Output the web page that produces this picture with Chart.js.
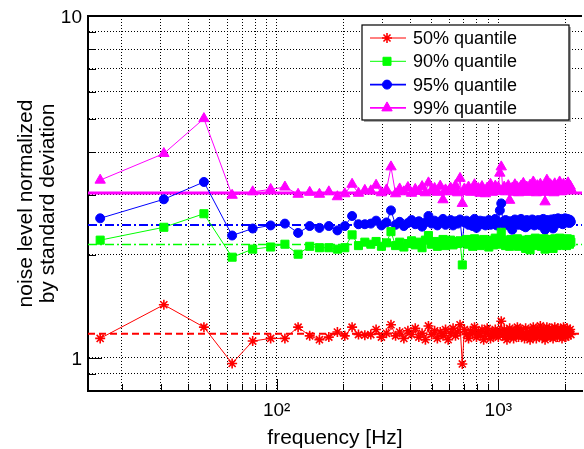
<!DOCTYPE html>
<html>
<head>
<meta charset="utf-8">
<script src="https://cdn.jsdelivr.net/npm/chart.js@4.4.0/dist/chart.umd.min.js"></script>
<style>
  html, body { margin: 0; padding: 0; background: #fff; overflow: hidden; }
</style>
</head>
<body>
<!-- the original figure is cut off on the right, so the canvas runs a few px past the window -->
<canvas id="chart" width="589" height="449"></canvas>
<script>
// frequency bins [Hz]
const freq = [
  16, 31, 47, 63, 78, 94, 109, 125, 141, 156, 172, 188, 203, 219, 234, 250,
  266, 281, 297, 313, 328, 344, 359, 375, 391, 406, 422, 438, 453, 469, 484, 500,
  516, 531, 547, 563, 578, 594, 609, 625, 641, 656, 672, 688, 703, 719, 734, 750,
  766, 781, 797, 813, 828, 844, 859, 875, 891, 906, 922, 938, 953, 969, 984, 1000,
  1016, 1031, 1047, 1063, 1078, 1094, 1109, 1125, 1141, 1156, 1172, 1188, 1203, 1219, 1234, 1250,
  1266, 1281, 1297, 1313, 1328, 1344, 1359, 1375, 1391, 1406, 1422, 1438, 1453, 1469, 1484, 1500,
  1516, 1531, 1547, 1563, 1578, 1594, 1609, 1625, 1641, 1656, 1672, 1688, 1703, 1719, 1734, 1750,
  1766, 1781, 1797, 1813, 1828, 1844, 1859, 1875, 1891, 1906, 1922, 1938, 1953, 1969, 1984, 2000,
  2016, 2031, 2047, 2063, 2078, 2094, 2109, 2125
];

const q50 = [
  1.14, 1.43, 1.23, 0.963, 1.12, 1.14, 1.14, 1.23, 1.16, 1.13, 1.15, 1.19, 1.16, 1.23, 1.17, 1.165,
  1.17, 1.21, 1.15, 1.18, 1.25, 1.16, 1.19, 1.14, 1.20, 1.17,
  1.22, 1.15, 1.18, 1.13, 1.24, 1.17, 1.20, 1.14, 1.19, 1.16,
  1.21, 1.13, 1.18, 1.22, 1.16, 1.19, 1.25, 0.96, 1.21, 1.17,
  1.14, 1.20, 1.18, 1.23, 1.15, 1.19, 1.16, 1.21, 1.13, 1.18,
  1.22, 1.17, 1.14, 1.19, 1.16, 1.21, 1.18, 1.15, 1.20, 1.28,
  1.17, 1.21, 1.15, 1.13, 1.19, 1.22, 1.16, 1.18, 1.14, 1.20,
  1.17, 1.23, 1.15, 1.19, 1.21, 1.16, 1.18, 1.14, 1.22, 1.17,
  1.19, 1.15, 1.13, 1.20, 1.17, 1.23, 1.16, 1.19, 1.14, 1.21,
  1.18, 1.16, 1.24, 1.19, 1.15, 1.21, 1.17, 1.13, 1.20, 1.23,
  1.16, 1.19, 1.22, 1.15, 1.18, 1.21, 1.14, 1.19, 1.23, 1.17,
  1.20, 1.15, 1.22, 1.18, 1.16, 1.21, 1.19, 1.14, 1.20, 1.23,
  1.17, 1.21, 1.15, 1.19, 1.22, 1.16, 1.20, 1.18, 1.21, 1.17
];

const q90 = [
  2.21, 2.41, 2.64, 1.97, 2.08, 2.11, 2.15, 2.01, 2.12, 2.10, 2.10, 2.08, 2.10, 2.29, 2.13, 2.18,
  2.15, 2.19, 2.12, 2.17, 2.34, 2.13, 2.18, 2.11, 2.16, 2.20,
  2.14, 2.18, 2.10, 2.21, 2.28, 2.15, 2.19, 2.12, 2.17, 2.22,
  2.13, 2.18, 2.21, 2.14, 2.19, 2.16, 2.20, 1.87, 2.17, 2.22,
  2.15, 2.19, 2.12, 2.23, 2.16, 2.20, 2.13, 2.18, 2.22, 2.15,
  2.19, 2.11, 2.17, 2.21, 2.14, 2.24, 2.18, 2.15, 2.20, 2.33,
  2.17, 2.21, 2.13, 2.19, 2.16, 2.12, 2.22, 2.18, 2.14, 2.20,
  2.17, 2.23, 2.12, 2.19, 2.15, 2.21, 2.18, 2.13, 2.09, 2.20,
  2.16, 2.22, 2.07, 2.18, 2.14, 2.21, 2.17, 2.24, 2.13, 2.19,
  2.15, 2.22, 2.18, 2.12, 2.20, 2.16, 2.23, 2.08, 2.17, 2.21,
  2.14, 2.19, 2.22, 2.16, 2.12, 2.20, 2.09, 2.18, 2.23, 2.15,
  2.19, 2.13, 2.21, 2.17, 2.24, 2.15, 2.20, 2.18, 2.14, 2.22,
  2.16, 2.21, 2.18, 2.13, 2.23, 2.17, 2.20, 2.15, 2.22, 2.18
];

const q95 = [
  2.56, 2.91, 3.27, 2.28, 2.39, 2.44, 2.47, 2.32, 2.43, 2.40, 2.43, 2.36, 2.43, 2.60, 2.46, 2.46,
  2.47, 2.52, 2.44, 2.49, 2.70, 2.45, 2.50, 2.43, 2.48, 2.53,
  2.46, 2.51, 2.42, 2.49, 2.60, 2.47, 2.52, 2.44, 2.50, 2.55,
  2.45, 2.49, 2.53, 2.44, 2.51, 2.47, 2.54, 2.18, 2.49, 2.52,
  2.45, 2.50, 2.43, 2.55, 2.40, 2.48, 2.52, 2.46, 2.51, 2.44,
  2.49, 2.53, 2.45, 2.50, 2.47, 2.55, 2.44, 2.49, 2.70, 2.83,
  2.50, 2.46, 2.53, 2.48, 2.44, 2.51, 2.47, 2.37, 2.49, 2.54,
  2.46, 2.52, 2.45, 2.49, 2.55, 2.47, 2.43, 2.50, 2.41, 2.53,
  2.48, 2.45, 2.51, 2.47, 2.54, 2.49, 2.44, 2.52, 2.46, 2.50,
  2.53, 2.47, 2.44, 2.51, 2.48, 2.55, 2.45, 2.37, 2.50, 2.53,
  2.47, 2.52, 2.49, 2.45, 2.54, 2.48, 2.39, 2.51, 2.55, 2.49,
  2.53, 2.47, 2.56, 2.50, 2.52, 2.48, 2.55, 2.51, 2.46, 2.54,
  2.50, 2.56, 2.52, 2.49, 2.55, 2.51, 2.54, 2.48, 2.53, 2.50
];

const q99 = [
  3.31, 3.96, 5.01, 2.99, 3.06, 3.11, 3.16, 3.01, 3.05, 3.01, 3.06, 2.96, 3.02, 3.22, 3.03, 3.09,
  3.08, 3.20, 3.04, 3.10, 3.62, 3.02, 3.12, 3.06, 3.15, 3.03,
  3.11, 3.07, 3.17, 3.04, 3.25, 3.09, 3.13, 3.05, 3.18, 2.90,
  3.10, 3.06, 3.14, 3.08, 3.19, 3.04, 3.35, 2.83, 3.12, 3.07,
  3.16, 3.05, 3.11, 3.21, 3.06, 3.13, 3.03, 3.17, 3.09, 3.02,
  3.14, 3.08, 3.22, 3.05, 3.12, 3.18, 3.07, 3.15, 3.47, 3.62,
  3.10, 3.16, 3.06, 3.13, 3.19, 2.89, 3.08, 3.14, 3.05, 3.21,
  3.09, 3.15, 3.04, 3.12, 3.18, 3.07, 3.24, 3.10, 3.06, 3.16,
  3.11, 3.05, 3.20, 3.08, 3.13, 3.27, 3.09, 3.15, 3.04, 3.19,
  3.12, 3.07, 3.22, 3.10, 3.16, 3.05, 3.14, 2.86, 3.18, 3.31,
  3.09, 3.15, 3.06, 3.21, 3.12, 3.08, 3.17, 3.04, 3.23, 3.11,
  3.14, 3.07, 3.19, 3.10, 3.27, 3.13, 3.06, 3.18, 3.11, 3.22,
  3.08, 3.16, 3.12, 3.20, 3.09, 3.25, 3.14, 3.10, 3.18, 3.13
];

// expected quantile levels (horizontal reference lines)
const refLevels = [1.177, 2.146, 2.448, 3.035];

const seriesNames = ['50% quantile', '90% quantile', '95% quantile', '99% quantile'];
const xTicks = [20, 30, 40, 50, 60, 70, 80, 90, 100, 200, 300, 400, 500, 600, 700, 800, 900, 1000, 2000];
const yTicks = [0.8, 0.9, 1, 2, 3, 4, 5, 6, 7, 8, 9, 10];
const xMajor = { 100: '10\u00B2', 1000: '10\u00B3' };
const yMajor = { 1: '1', 10: '10' };
const xRange = [14.1, 2385];
const yRange = [0.8, 10];

const styles = [
  { color: '#ff0000', point: 'star', radius: 5, pbw: 1.6, dash: [7, 4], refWidth: 2 },
  { color: '#00ff00', point: 'rect', radius: 5.7, pbw: 1, dash: [9, 3, 2, 3], refWidth: 1.6 },
  { color: '#0000ff', point: 'circle', radius: 4.5, pbw: 1, dash: [9, 3, 2, 3], refWidth: 2 },
  { color: '#ff00ff', point: 'triangle', radius: 6, pbw: 1, dash: [], refWidth: 3 }
];
const series = [q50, q90, q95, q99];

const datasets = [];
series.forEach((vals, i) => {
  const s = styles[i];
  datasets.push({
    label: seriesNames[i],
    data: freq.map((f, j) => ({ x: f, y: vals[j] })),
    borderColor: s.color,
    backgroundColor: s.color,
    borderWidth: 1,
    pointStyle: s.point,
    pointRadius: s.radius,
    pointBorderWidth: s.pbw,
    pointBackgroundColor: s.color,
    pointBorderColor: s.color,
    tension: 0,
    order: 1
  });
});
refLevels.forEach((lvl, i) => {
  const s = styles[i];
  datasets.push({
    label: 'ref' + i,
    data: [{ x: xRange[0], y: lvl }, { x: xRange[1], y: lvl }],
    borderColor: s.color,
    borderWidth: s.refWidth,
    borderDash: s.dash,
    pointRadius: 0,
    order: 5
  });
});

// frame: top border + inward tick marks
const framePlugin = {
  id: 'frame',
  afterDraw(chart) {
    const { ctx, chartArea: a, scales } = chart;
    ctx.save();
    ctx.strokeStyle = '#000';
    ctx.lineWidth = 2;
    ctx.beginPath();
    ctx.moveTo(a.left - 1, a.top);
    ctx.lineTo(a.right, a.top);
    ctx.stroke();
    ctx.lineWidth = 1;
    ctx.beginPath();
    yTicks.forEach(v => {
      const y = Math.round(scales.y.getPixelForValue(v)) + 0.5;
      const len = yMajor[v] ? 14 : 8;
      ctx.moveTo(a.left, y);
      ctx.lineTo(a.left + len, y);
    });
    xTicks.forEach(v => {
      const x = Math.round(scales.x.getPixelForValue(v)) + 0.5;
      const len = xMajor[v] ? 12 : 7;
      ctx.moveTo(x, a.bottom);
      ctx.lineTo(x, a.bottom - len);
    });
    ctx.stroke();
    ctx.restore();
  }
};

// boxed legend with line + marker samples
const legendPlugin = {
  id: 'boxLegend',
  afterDraw(chart) {
    const { ctx, chartArea: a } = chart;
    const x0 = 362, y0 = a.top + 9, w = 207, h = 95;
    ctx.save();
    ctx.fillStyle = '#aaa';
    ctx.fillRect(x0 + 2, y0 + 2, w, h);
    ctx.fillStyle = '#fff';
    ctx.fillRect(x0, y0, w, h);
    ctx.strokeStyle = '#000';
    ctx.lineWidth = 1.2;
    ctx.strokeRect(x0, y0, w, h);
    ctx.font = '18px "Liberation Sans", Arial, sans-serif';
    ctx.textBaseline = 'middle';
    ctx.textAlign = 'left';
    seriesNames.forEach((name, i) => {
      const s = styles[i];
      const y = y0 + 13 + i * 23.3;
      ctx.strokeStyle = s.color;
      ctx.fillStyle = s.color;
      ctx.lineWidth = i < 2 ? 1 : 1.8;
      ctx.setLineDash([]);
      ctx.beginPath();
      ctx.moveTo(x0 + 8, y);
      ctx.lineTo(x0 + 44, y);
      ctx.stroke();
      ctx.lineWidth = s.pbw;
      Chart.helpers.drawPoint(ctx, { pointStyle: s.point, radius: s.radius, borderWidth: s.pbw, rotation: 0 }, x0 + 25, y);
      ctx.fillStyle = '#000';
      ctx.fillText(name, x0 + 51, y + 1);
    });
    ctx.restore();
  }
};

const font = { family: '"Liberation Sans", Arial, sans-serif' };

new Chart(document.getElementById('chart'), {
  type: 'line',
  data: { datasets },
  options: {
    responsive: false,
    animation: false,
    layout: { padding: { top: 16, right: 0, left: 0, bottom: 0 } },
    plugins: { legend: { display: false }, tooltip: { enabled: false } },
    scales: {
      x: {
        type: 'logarithmic',
        min: xRange[0],
        max: xRange[1],
        afterBuildTicks: s => { s.ticks = xTicks.map(v => ({ value: v })); },
        afterFit: s => { s.height = 58; s.paddingLeft = 0; s.paddingRight = 0; },
        grid: { color: '#000', lineWidth: 1, drawTicks: false },
        border: { color: '#000', width: 2, dash: [1, 2] },
        ticks: {
          autoSkip: false, maxRotation: 0, padding: 8, color: '#000',
          font: { ...font, size: 19 },
          callback: v => xMajor[v] || ''
        },
        title: {
          display: true, text: 'frequency [Hz]', color: '#000',
          font: { ...font, size: 21, lineHeight: 1.05 },
          padding: { top: 0, bottom: 0 }
        }
      },
      y: {
        type: 'logarithmic',
        min: yRange[0],
        max: yRange[1],
        afterBuildTicks: s => { s.ticks = yTicks.map(v => ({ value: v })); },
        afterFit: s => { s.width = 88; s.paddingTop = 0; s.paddingBottom = 0; },
        grid: { color: '#000', lineWidth: 1, drawTicks: false },
        border: { color: '#000', width: 2, dash: [1, 2] },
        ticks: {
          autoSkip: false, padding: 6, labelOffset: 2, color: '#000',
          font: { ...font, size: 19 },
          callback: v => yMajor[v] || ''
        },
        title: {
          display: true, text: ['noise level normalized', 'by standard deviation'], color: '#000',
          font: { ...font, size: 21, lineHeight: 1.05 },
          padding: { top: 15, bottom: 0 }
        }
      }
    }
  },
  plugins: [framePlugin, legendPlugin]
});
</script>
</body>
</html>
